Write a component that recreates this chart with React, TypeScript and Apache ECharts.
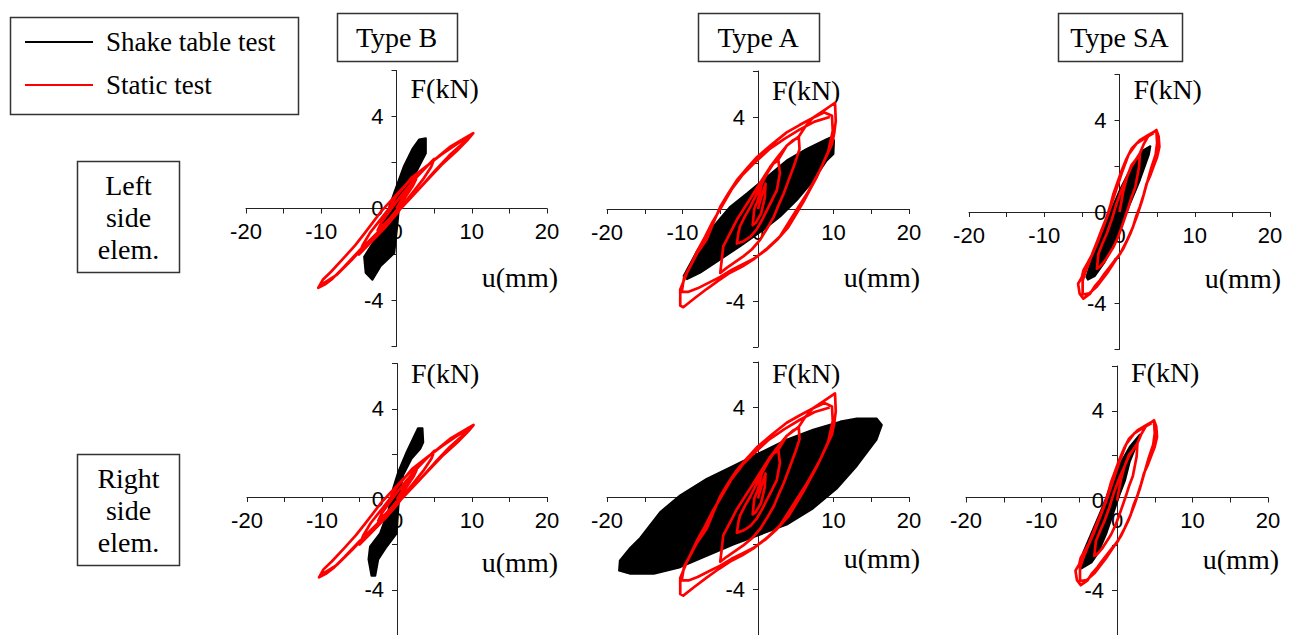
import React, { useEffect, useRef } from "react";
import * as echarts from "echarts";

type Pt = [number, number];

// ---------- categories / tick labels ----------
const specimenTypes = ["Type B", "Type A", "Type SA"];
const elementRows = ["Left\nside\nelem.", "Right\nside\nelem."];
const seriesNames = ["Shake table test", "Static test"];
const uTickLabels = [-20, -10, 0, 10, 20];
const fTickLabels = [-4, 0, 4];
const uAxisName = "u(mm)";
const fAxisName = "F(kN)";

// ---------- static test (red) loops, [u (mm), F (kN)] ----------
const staticB: Pt[] = [
  [0, 0], [0.8, 0.45], [1.7, 0.85], [2.6, 1.28], [2.2, 1.0], [1.3, 0.55], [0.3, 0.05], [-0.8, -0.4],
  [-1.7, -0.7], [-2.5, -0.95], [-2.0, -0.6], [-1.0, -0.15], [0, 0.3],
  [1.2, 0.8], [2.5, 1.3], [3.8, 1.75], [5.0, 2.15], [4.6, 1.8], [3.6, 1.3], [2.4, 0.8], [1.2, 0.3],
  [0, -0.25], [-1.3, -0.75], [-2.6, -1.2], [-3.8, -1.6], [-5.0, -2.0], [-4.5, -1.6], [-3.5, -1.05],
  [-2.3, -0.55], [-1.0, 0.0], [0, 0.55],
  [2, 1.33], [4, 1.85], [6, 2.35], [8, 2.8], [9.2, 3.05], [10.1, 3.25], [9.2, 2.95], [8, 2.6], [7, 2.3],
  [5, 1.6], [3, 0.85], [1, 0.15], [-1, -0.55], [-3, -1.2], [-5, -1.85], [-7, -2.55], [-8.5, -3.05],
  [-9.5, -3.3], [-10.4, -3.45], [-9.8, -3.1], [-8.7, -2.75], [-7, -2.15], [-5.5, -1.6], [-4.3, -1.1],
  [-2.1, -0.15], [0, 0.6], [1.0, 0.95], [2.5, 1.45], [4.6, 2.0], [7.2, 2.7], [9.0, 3.05], [10.2, 3.28],
  [9.5, 3.0], [8, 2.5], [6, 1.9], [4, 1.2], [2, 0.5], [0, -0.2], [-2, -0.9], [-4, -1.55], [-6, -2.25],
  [-8, -2.9], [-10.2, -3.35],
];

const staticA: Pt[] = [
  [0, 0], [0.5, 0.6], [1.0, 1.1], [0.9, 0.5], [0.4, -0.2], [-0.3, -0.6], [-0.7, -0.7], [-0.5, 0], [0, 0.4],
  [0.5, 1.1], [1.3, 1.6], [2.0, 1.96], [2.7, 2.12],
  [2.9, 1.55], [2.5, 0.82], [1.8, 0.35], [1.2, -0.04], [0.5, -0.5], [-0.2, -0.9], [-1.0, -1.2],
  [-1.9, -1.4], [-2.8, -1.5],
  [-2.6, -1.05], [-2.4, -0.76], [-1.7, -0.3], [-1.0, 0.1], [-0.2, 0.65], [0.5, 1.1], [1.3, 1.6],
  [2.0, 1.96], [2.7, 2.15],
  [3.8, 2.75], [4.6, 2.95], [5.4, 3.15],
  [5.5, 2.6], [5.1, 2.2], [4.7, 1.82], [4.0, 1.2], [3.4, 0.67], [2.7, 0.15], [2.1, -0.33], [1.2, -0.85],
  [0.3, -1.33], [-0.8, -1.75], [-1.9, -2.05], [-3.0, -2.3], [-4.1, -2.55], [-5.0, -2.78],
  [-4.8, -2.2], [-4.6, -1.62], [-3.7, -1.05], [-2.8, -0.47], [-1.7, 0.1], [-0.6, 0.67], [0.5, 1.25],
  [1.6, 1.82], [2.7, 2.3], [3.8, 2.75], [4.6, 2.98], [5.3, 3.1],
  [6.3, 3.6], [7.3, 3.97], [8.8, 4.3], [10.2, 4.62],
  [10.3, 3.83], [10.1, 3.3], [9.8, 2.82], [9.0, 2.25], [8.2, 1.68], [7.3, 1.15], [6.5, 0.67],
  [5.1, -0.04], [4.0, -0.62], [2.9, -1.19], [1.2, -1.72], [-0.6, -2.19], [-2.1, -2.5], [-3.7, -2.77],
  [-5.2, -3.1], [-6.8, -3.48], [-8.4, -3.88], [-9.9, -4.27], [-10.3, -4.2],
  [-10.3, -3.5], [-9.4, -2.77], [-8.1, -1.95], [-6.8, -1.33], [-5.9, -0.6], [-5.0, 0.1], [-3.9, 0.7],
  [-2.8, 1.25], [-1.5, 1.75], [-0.15, 2.25], [1.8, 2.8], [3.8, 3.33], [5.5, 3.65], [7.3, 3.97],
  [8.8, 4.2], [9.8, 4.05],
  [9.9, 3.4], [9.3, 2.5], [8.5, 1.9], [7.8, 1.4], [6.9, 0.85], [6.0, 0.3], [5.0, -0.25], [4.0, -0.8],
  [2.5, -1.35], [1.0, -1.8], [-0.5, -2.15], [-2.0, -2.4], [-3.5, -2.65], [-5.0, -2.95], [-6.5, -3.2],
  [-8.0, -3.45], [-9.2, -3.6], [-10.1, -3.6],
  [-9.8, -3.0], [-9.0, -2.5], [-8.0, -1.8], [-7.0, -1.2], [-6.0, -0.55], [-5.0, 0.0], [-3.5, 0.85],
  [-2.0, 1.5], [-0.5, 2.0], [1.5, 2.6], [3.5, 3.05], [5.5, 3.45], [7.5, 3.8], [9.5, 4.0],
];

const staticSA: Pt[] = [
  [0, 0], [0.5, 0.9], [1.0, 1.53], [1.6, 2.0], [2.1, 2.25], [2.7, 2.52],
  [2.6, 1.96], [2.1, 1.09], [1.6, 0.65], [1.2, 0.22], [0.3, -0.65], [-0.2, -1.1], [-0.8, -1.53],
  [-1.9, -2.11], [-2.5, -2.35], [-3.0, -2.47],
  [-2.8, -1.82], [-2.3, -1.4], [-1.7, -0.95], [-1.0, -0.3], [-0.4, 0.36], [0.3, 1.0], [1.0, 1.53],
  [1.6, 2.05], [2.1, 2.25], [2.7, 2.55],
  [3.2, 2.95], [3.8, 3.3], [4.4, 3.45], [4.9, 3.58],
  [5.2, 3.3], [5.3, 2.84], [5.0, 2.4], [4.5, 1.96], [4.1, 1.6], [3.6, 1.24], [3.2, 0.75], [2.7, 0.22],
  [2.2, -0.2], [1.8, -0.65], [1.0, -1.24], [0.1, -1.82], [-0.6, -2.1], [-1.3, -2.4], [-2.0, -2.7],
  [-2.6, -2.98], [-3.3, -3.25], [-3.9, -3.56], [-4.8, -3.78], [-5.3, -3.56], [-5.5, -3.13], [-5.0, -2.84],
  [-4.8, -2.55], [-4.2, -2.2], [-3.7, -1.89], [-3.0, -1.31], [-2.4, -0.8], [-1.7, -0.22], [-1.2, 0.3],
  [-0.8, 0.8], [-0.2, 1.35], [0.3, 1.82], [0.9, 2.3], [1.6, 2.76], [2.7, 3.13], [3.8, 3.35], [4.9, 3.56],
  [5.0, 3.0], [4.8, 2.5], [4.2, 1.9], [3.6, 1.2], [3.0, 0.5], [2.3, -0.2], [1.5, -0.9], [0.5, -1.6],
  [-0.5, -2.1], [-1.5, -2.6], [-3.0, -3.25], [-4.0, -3.55], [-4.9, -3.6],
  [-4.9, -3.0], [-4.5, -2.6], [-3.8, -2.0], [-3.0, -1.4], [-2.2, -0.7], [-1.4, 0.0], [-0.6, 0.8],
  [0.3, 1.7], [1.2, 2.5], [2.3, 3.0], [3.5, 3.25], [4.6, 3.45],
];

// ---------- shake table test (black) envelopes, [u (mm), F (kN)] ----------
const shakeBLeft: Pt[] = [
  [3.0, 3.0], [3.9, 3.05], [3.9, 2.4], [2.8, 1.7], [1.5, 0.98], [0.35, 0.1], [0.1, -0.77], [-0.3, -1.94],
  [-2.1, -2.5], [-3.2, -3.1], [-4.1, -2.8], [-4.3, -2.1], [-3.0, -1.43], [-1.4, -0.34], [-0.3, 0.69],
  [1.0, 1.85], [2.1, 2.58],
];
const shakeBRight: Pt[] = [
  [2.8, 3.14], [3.4, 3.14], [3.5, 2.52], [3.1, 2.23], [1.95, 1.8], [0.84, 1.08], [0.4, 0.36], [0.18, -0.36],
  [-0.04, -1.51], [-1.37, -2.09], [-2.5, -2.66], [-2.9, -3.38], [-3.4, -3.38], [-3.8, -2.66], [-3.6, -2.09],
  [-2.26, -1.51], [-1.15, -0.5], [-0.5, 0.5], [0.18, 1.22], [1.29, 2.09], [2.1, 2.66],
];
const shakeALeft: Pt[] = [
  [-9.85, -2.91], [-8.09, -1.84], [-5.89, -0.76], [-3.68, 0.1], [-1.48, 0.67], [1.17, 1.39], [3.81, 2.11],
  [6.46, 2.61], [9.1, 3.04], [9.85, 3.14], [10.07, 2.97], [9.99, 2.39], [9.1, 2.11], [7.34, 1.25],
  [5.14, 0.39], [2.93, -0.33], [0.73, -0.9], [-2.36, -1.62], [-5.0, -2.19], [-7.65, -2.77], [-9.41, -3.05],
];
const shakeARight: Pt[] = [
  [-18.3, -2.73], [-16.9, -2.16], [-15.6, -1.73], [-12.9, -0.58], [-10.3, 0.14], [-6.8, 0.86], [-3.2, 1.44],
  [0.3, 2.01], [3.8, 2.59], [7.3, 3.02], [10.9, 3.38], [13.1, 3.52], [15.7, 3.52], [16.4, 3.24],
  [15.7, 2.59], [13.1, 1.44], [10.4, 0.43], [7.3, -0.43], [3.8, -1.15], [0.3, -1.58], [-3.2, -2.01],
  [-6.8, -2.52], [-10.3, -3.02], [-13.8, -3.31], [-16.9, -3.31], [-18.4, -3.17],
];
const shakeSALeft: Pt[] = [
  [-4.4, -2.84], [-3.8, -2.2], [-2.5, -1.0], [-1.2, 0.0], [0.1, 1.0], [1.8, 2.1], [3.2, 2.7], [4.1, 2.87],
  [3.9, 2.5], [2.6, 1.3], [1.0, 0.05], [-0.5, -1.2], [-2.0, -2.2], [-3.3, -2.8], [-4.2, -2.95],
];
const shakeSARight: Pt[] = [
  [-4.48, -2.33], [-3.37, -1.45], [-2.27, -0.58], [-1.39, 0.15], [-0.51, 1.02], [0.6, 1.75], [1.7, 2.4],
  [3.02, 2.94], [2.58, 2.47], [1.7, 1.75], [1.04, 0.87], [0.37, 0.29], [-0.51, -0.58], [-1.39, -1.45],
  [-2.49, -2.33], [-3.37, -2.76], [-4.7, -3.03], [-4.92, -2.91],
];

// ---------- layout (positions only) ----------
const GRIDS = [
  { left: 246, top: 70.5, width: 301, height: 276 },
  { left: 607, top: 71, width: 302, height: 276 },
  { left: 969, top: 74.5, width: 301, height: 275 },
  { left: 247, top: 363.5, width: 300, height: 276 },
  { left: 607, top: 362, width: 302, height: 276 },
  { left: 966, top: 366, width: 302, height: 275 },
];
const F_NAME_Y = [88, 90, 89, 373, 373, 372];
const U_NAME_Y = [277, 277, 278, 562, 558, 559];
const PANELS = [
  { shake: shakeBLeft, stat: staticB },
  { shake: shakeALeft, stat: staticA },
  { shake: shakeSALeft, stat: staticSA },
  { shake: shakeBRight, stat: staticB },
  { shake: shakeARight, stat: staticA },
  { shake: shakeSARight, stat: staticSA },
];

const SERIF = '"Liberation Serif", "Times New Roman", serif';
const SANS = '"Liberation Sans", Arial, sans-serif';
const RED = "#ff0000";

function txt(text: string, x: number, y: number, size: number, align = "left", extra: any = {}) {
  return {
    type: "text",
    x,
    y,
    silent: true,
    style: {
      text,
      fontSize: size,
      fontFamily: SERIF,
      fill: "#000",
      align,
      textAlign: align,
      verticalAlign: "middle",
      textVerticalAlign: "middle",
      ...extra,
    },
  };
}

export default function App() {
  const ref = useRef<HTMLDivElement>(null);

  useEffect(() => {
    if (!ref.current) return;
    const chart = echarts.init(ref.current, null, { renderer: "svg" });

    const grid = GRIDS.map((g) => ({ ...g, containLabel: false }));
    // axes sit at the origin of each panel: shift them inward by half the grid size
    const xAxis = GRIDS.map((g, i) => ({
      type: "value",
      gridIndex: i,
      position: "bottom",
      offset: -g.height / 2,
      min: -20,
      max: 20,
      interval: 5,
      axisLine: { show: true, onZero: false, lineStyle: { color: "#222", width: 1 } },
      axisTick: { show: true, length: 5, inside: false, lineStyle: { color: "#222", width: 1 } },
      axisLabel: {
        show: true,
        fontSize: 22,
        fontFamily: SANS,
        color: "#000",
        margin: 12,
        formatter: (v: number) => (uTickLabels.includes(v) ? String(v) : ""),
      },
      splitLine: { show: false },
    }));
    const yAxis = GRIDS.map((g, i) => ({
      type: "value",
      gridIndex: i,
      position: "left",
      offset: -g.width / 2,
      min: -6,
      max: 6,
      interval: 2,
      axisLine: { show: true, onZero: false, lineStyle: { color: "#222", width: 1 } },
      axisTick: { show: true, length: 5, inside: false, lineStyle: { color: "#222", width: 1 } },
      axisLabel: {
        show: true,
        fontSize: 22,
        fontFamily: SANS,
        color: "#000",
        margin: 13,
        formatter: (v: number) => (fTickLabels.includes(v) ? String(v) : ""),
      },
      splitLine: { show: false },
    }));

    const series: any[] = [];
    PANELS.forEach((p, i) => {
      const shake = p.shake;
      series.push({
        type: "custom",
        name: seriesNames[0],
        xAxisIndex: i,
        yAxisIndex: i,
        data: shake,
        encode: { x: 0, y: 1 },
        z: 2,
        silent: true,
        clip: true,
        renderItem: (params: any, api: any) => {
          if (params.dataIndex !== 0) return null;
          const pts = shake.map((d) => api.coord(d));
          return {
            type: "polygon",
            shape: { points: pts },
            style: { fill: "#000", stroke: "#000", lineWidth: 2, lineJoin: "round" },
          };
        },
      });
      series.push({
        type: "line",
        name: seriesNames[1],
        xAxisIndex: i,
        yAxisIndex: i,
        data: p.stat,
        symbol: "none",
        showSymbol: false,
        z: 3,
        silent: true,
        lineStyle: { color: RED, width: 2.7, join: "round" },
      });
    });

    const graphic: any[] = [];
    // legend
    graphic.push({
      type: "rect",
      silent: true,
      shape: { x: 10.5, y: 17.5, width: 288, height: 97 },
      style: { fill: "#fff", stroke: "#333", lineWidth: 1.5 },
    });
    graphic.push({
      type: "line",
      silent: true,
      shape: { x1: 25, y1: 42, x2: 93, y2: 42 },
      style: { stroke: "#000", lineWidth: 2 },
    });
    graphic.push({
      type: "line",
      silent: true,
      shape: { x1: 25, y1: 85, x2: 93, y2: 85 },
      style: { stroke: RED, lineWidth: 2 },
    });
    graphic.push(txt(seriesNames[0], 106, 42, 27));
    graphic.push(txt(seriesNames[1], 106, 85, 27));

    // type title boxes centred on each column's vertical axis
    const boxW = [120, 121, 124];
    specimenTypes.forEach((t, c) => {
      const g = GRIDS[c];
      const cx = g.left + g.width / 2;
      graphic.push({
        type: "rect",
        silent: true,
        shape: { x: Math.round(cx - boxW[c] / 2) + 0.5, y: 13.5, width: boxW[c], height: 48 },
        style: { fill: "#fff", stroke: "#333", lineWidth: 1.5 },
      });
      graphic.push(txt(t, cx, 37, 28, "center"));
    });

    // row label boxes
    elementRows.forEach((r, k) => {
      const top = 161.5 + k * 293;
      graphic.push({
        type: "rect",
        silent: true,
        shape: { x: 77.5, y: top, width: 102, height: 111 },
        style: { fill: "#fff", stroke: "#333", lineWidth: 1.5 },
      });
      graphic.push(txt(r, 128.5, top + 56, 28, "center", { lineHeight: 32 }));
    });

    // axis names
    GRIDS.forEach((g, i) => {
      const ax = g.left + g.width / 2;
      graphic.push(txt(fAxisName, ax + 14, F_NAME_Y[i], 28, "left"));
      graphic.push(txt(uAxisName, g.left + g.width + 11, U_NAME_Y[i], 28, "right"));
    });

    chart.setOption({
      animation: false,
      backgroundColor: "#fff",
      grid,
      xAxis,
      yAxis,
      series,
      graphic,
    });

    return () => chart.dispose();
  }, []);

  return (
    <div
      ref={ref}
      style={{ position: "absolute", left: 0, top: 0, width: 1294, height: 635, background: "#fff" }}
    />
  );
}
